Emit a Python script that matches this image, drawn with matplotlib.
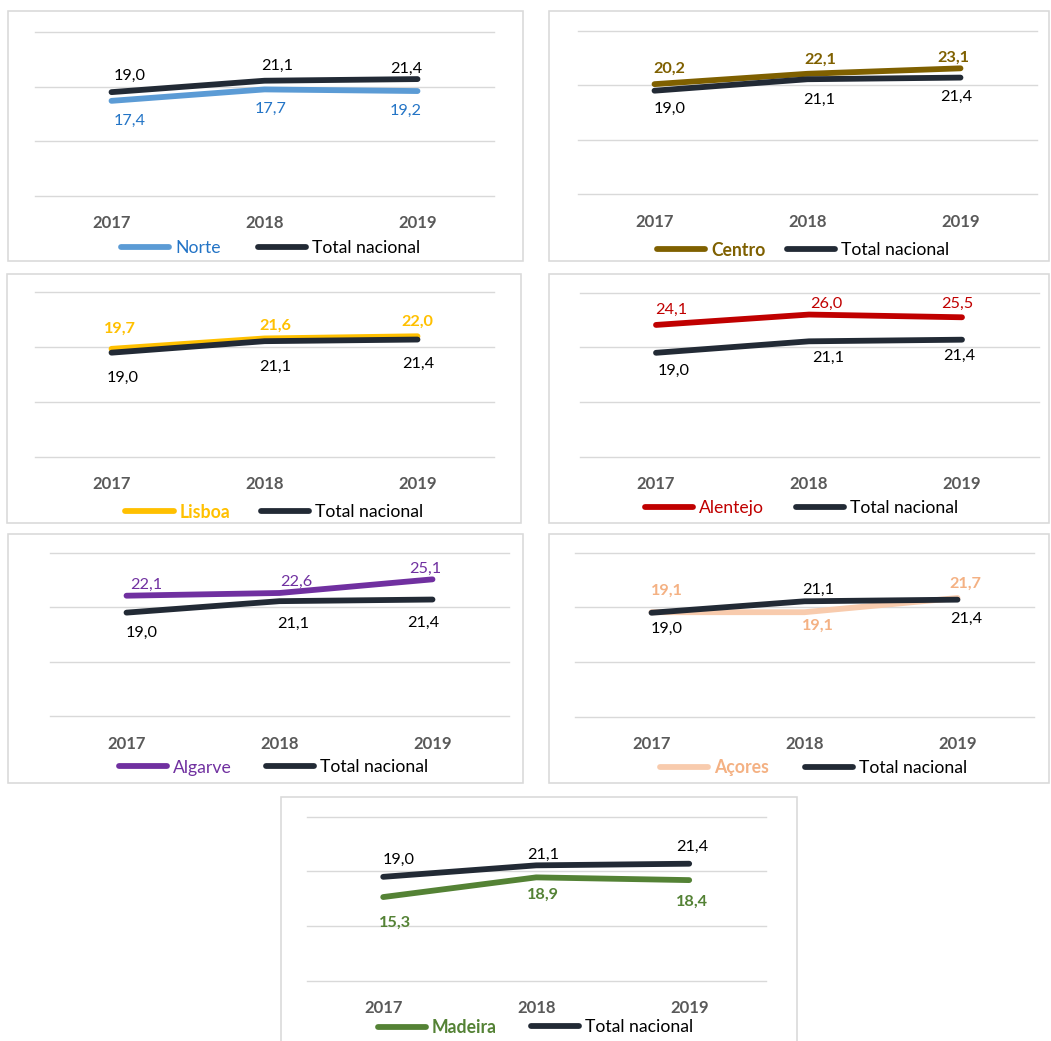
import matplotlib
matplotlib.use("Agg")
import matplotlib.pyplot as plt
from matplotlib.patches import Rectangle
from matplotlib.lines import Line2D

# ---------------- data ----------------
years = ["2017", "2018", "2019"]
total_nacional = [19.0, 21.1, 21.4]

norte = [17.4, 19.5, 19.2]            # line as drawn in the source
norte_labels = ["17,4", "17,7", "19,2"]  # labels as printed in the source
centro = [20.2, 22.1, 23.1]
lisboa = [19.7, 21.6, 22.0]
alentejo = [24.1, 26.0, 25.5]
algarve = [22.1, 22.6, 25.1]
acores = [19.1, 19.1, 21.7]
madeira = [15.3, 18.9, 18.4]

regions = ["Norte", "Centro", "Lisboa", "Alentejo", "Algarve", "Açores", "Madeira"]


def fmt(vals):
    return [f"{v:.1f}".replace(".", ",") for v in vals]


series = {
    "Norte": (norte, norte_labels),
    "Centro": (centro, fmt(centro)),
    "Lisboa": (lisboa, fmt(lisboa)),
    "Alentejo": (alentejo, fmt(alentejo)),
    "Algarve": (algarve, fmt(algarve)),
    "Açores": (acores, fmt(acores)),
    "Madeira": (madeira, fmt(madeira)),
}
total_labels = fmt(total_nacional)

# ---------------- style ----------------
TOTAL_COLOR = "#222A35"
STYLE = {
    "Norte": dict(line="#5B9BD5", text="#2374C6", bold=False),
    "Centro": dict(line="#7F6000", text="#7F6000", bold=True),
    "Lisboa": dict(line="#FFC000", text="#FFC000", bold=True),
    "Alentejo": dict(line="#C00000", text="#C00000", bold=False),
    "Algarve": dict(line="#7030A0", text="#7030A0", bold=False),
    "Açores": dict(line="#F8CBAD", text="#F4B183", bold=True),
    "Madeira": dict(line="#548235", text="#548235", bold=True),
}

# layout in pixels (top-left origin)
LAYOUT = {
    "Norte": dict(box=(8, 11, 523, 261), plot=(35, 494, 32.3, 195.5), leg=(248, 118, 255),
                  reg_off=[(18, 18.3), (6.2, 18.1), (-11.5, 18.4)],
                  tot_off=[(18, -18.3), (12.8, -16.2), (-11.5, -12.2)]),
    "Centro": dict(box=(549, 11, 1049, 261), plot=(578, 1037, 30.7, 194.3), leg=(250, 654, 784),
                   reg_off=[(14.8, -17.4), (12.5, -15.5), (-7.2, -12.6)],
                   tot_off=[(15.5, 16.6), (11.8, 19.1), (-4.5, 17.4)]),
    "Lisboa": dict(box=(7, 274, 521, 523), plot=(35, 494, 292.5, 456.6), leg=(512, 122.4, 257.6),
                   reg_off=[(8.5, -22.2), (11, -14.2), (0, -16.1)],
                   tot_off=[(11.2, 23.9), (11, 23.6), (0.5, 22.9)]),
    "Alentejo": dict(box=(549, 274, 1049, 523), plot=(579.5, 1038.5, 292.7, 456.6), leg=(508, 641.7, 793.3),
                     reg_off=[(15, -17.2), (17, -12.3), (-4.7, -15)],
                     tot_off=[(17.3, 16.2), (18.7, 14.7), (-3, 14.3)]),
    "Algarve": dict(box=(8, 534, 523, 783), plot=(50, 509, 552.6, 716.3), leg=(767.5, 115.6, 263),
                    reg_off=[(19.5, -12.5), (16.3, -13.2), (-7.3, -12)],
                    tot_off=[(14.8, 18.9), (13.5, 20.8), (-9, 21.2)]),
    "Açores": dict(box=(549, 534, 1049, 783), plot=(575, 1034, 552.7, 716.5), leg=(768, 657.3, 801.7),
                   reg_off=[(15.2, -22.9), (13.2, 12.1), (8.2, -15.7)],
                   tot_off=[(15.2, 13.9), (13.8, -13.6), (9.2, 17)]),
    "Madeira": dict(box=(281, 797, 797, 1060), plot=(306.7, 765.7, 816.7, 980.7), leg=(1027.5, 375, 528),
                    reg_off=[(11.8, 23.6), (7.1, 15.9), (2.5, 19.9)],
                    tot_off=[(15.1, -19.1), (7.1, -12.1), (3.1, -18.7)]),
}

W, H, DPI = 1051, 1041, 100
PT = 72.0 / DPI  # points per pixel
FONT = "Lato"
LABEL_FS = 11.7
YEAR_FS = 12.0
LEG_FS = 12.7
LW_PX = 5.8
GRID = "#D9D9D9"

plt.rcParams["font.family"] = [FONT, "DejaVu Sans"]

fig = plt.figure(figsize=(W / DPI, H / DPI), dpi=DPI, facecolor="white")


def fx(x):
    return x / W


def fy(y):
    return 1 - y / H


x_idx = list(range(len(years)))
cap_half = LW_PX / 2.0
baseline_shift = 5.8  # px from text ink centre to baseline

for reg in regions:
    lay = LAYOUT[reg]
    st = STYLE[reg]
    vals, labs = series[reg]

    # panel border
    L, T, R, B = lay["box"]
    fig.patches.append(Rectangle((fx(L), fy(B)), fx(R) - fx(L), fy(T) - fy(B),
                                 transform=fig.transFigure, fill=False,
                                 edgecolor=GRID, linewidth=1.6 * PT, zorder=0))

    x0, x1, y30, y0 = lay["plot"]
    ax = fig.add_axes([fx(x0), fy(y0), fx(x1) - fx(x0), fy(y30) - fy(y0)])
    ax.set_xlim(-0.5, 2.5)
    ax.set_ylim(0, 30)
    ax.set_facecolor("none")
    for s in ax.spines.values():
        s.set_visible(False)
    ax.set_yticks([0, 10, 20, 30])
    ax.set_yticklabels([])
    ax.tick_params(axis="y", length=0)
    ax.grid(axis="y", color=GRID, linewidth=1.4 * PT)
    for gl in ax.get_ygridlines():
        gl.set_clip_on(False)
    ax.set_axisbelow(True)
    ax.set_xticks(x_idx)
    ax.set_xticklabels(years, fontsize=YEAR_FS, fontweight="bold", color="#595959")
    ax.tick_params(axis="x", length=0, pad=14)

    weight = "bold" if st["bold"] else "normal"
    ax.plot(x_idx, vals, color=st["line"], linewidth=LW_PX * PT,
            solid_capstyle="round", solid_joinstyle="round", clip_on=False, zorder=3)
    ax.plot(x_idx, total_nacional, color=TOTAL_COLOR, linewidth=LW_PX * PT,
            solid_capstyle="round", solid_joinstyle="round", clip_on=False, zorder=4)

    for i in x_idx:
        dx, dy = lay["reg_off"][i]
        ax.annotate(labs[i], xy=(i, vals[i]), xytext=(dx * PT, -(dy + baseline_shift) * PT),
                    textcoords="offset points", ha="center", va="baseline",
                    fontsize=LABEL_FS, color=st["text"], fontweight=weight, zorder=5)
        dx, dy = lay["tot_off"][i]
        ax.annotate(total_labels[i], xy=(i, total_nacional[i]),
                    xytext=(dx * PT, -(dy + baseline_shift) * PT),
                    textcoords="offset points", ha="center", va="baseline",
                    fontsize=LABEL_FS, color="#000000", zorder=5)

    # legends (one entry each, placed at the positions of the source)
    leg_y, rx, tx = lay["leg"]
    fs_px = LEG_FS / PT
    hl = (54 - LW_PX) / fs_px
    htp = 6.0 / fs_px
    h_reg = Line2D([], [], color=st["line"], linewidth=LW_PX * PT, solid_capstyle="round")
    h_tot = Line2D([], [], color=TOTAL_COLOR, linewidth=LW_PX * PT, solid_capstyle="round")
    lg1 = ax.legend([h_reg], [reg], loc="center left",
                    bbox_to_anchor=(fx(rx + cap_half), fy(leg_y)), bbox_transform=fig.transFigure,
                    frameon=False, borderpad=0, borderaxespad=0, handlelength=hl,
                    handletextpad=htp, fontsize=LEG_FS)
    for t in lg1.get_texts():
        t.set_color(st["text"])
        t.set_fontweight(weight)
    ax.add_artist(lg1)
    lg2 = ax.legend([h_tot], ["Total nacional"], loc="center left",
                    bbox_to_anchor=(fx(tx + cap_half), fy(leg_y)), bbox_transform=fig.transFigure,
                    frameon=False, borderpad=0, borderaxespad=0, handlelength=hl,
                    handletextpad=htp, fontsize=LEG_FS)
    for t in lg2.get_texts():
        t.set_color("#000000")

fig.savefig("out.png", dpi=DPI, facecolor="white")
